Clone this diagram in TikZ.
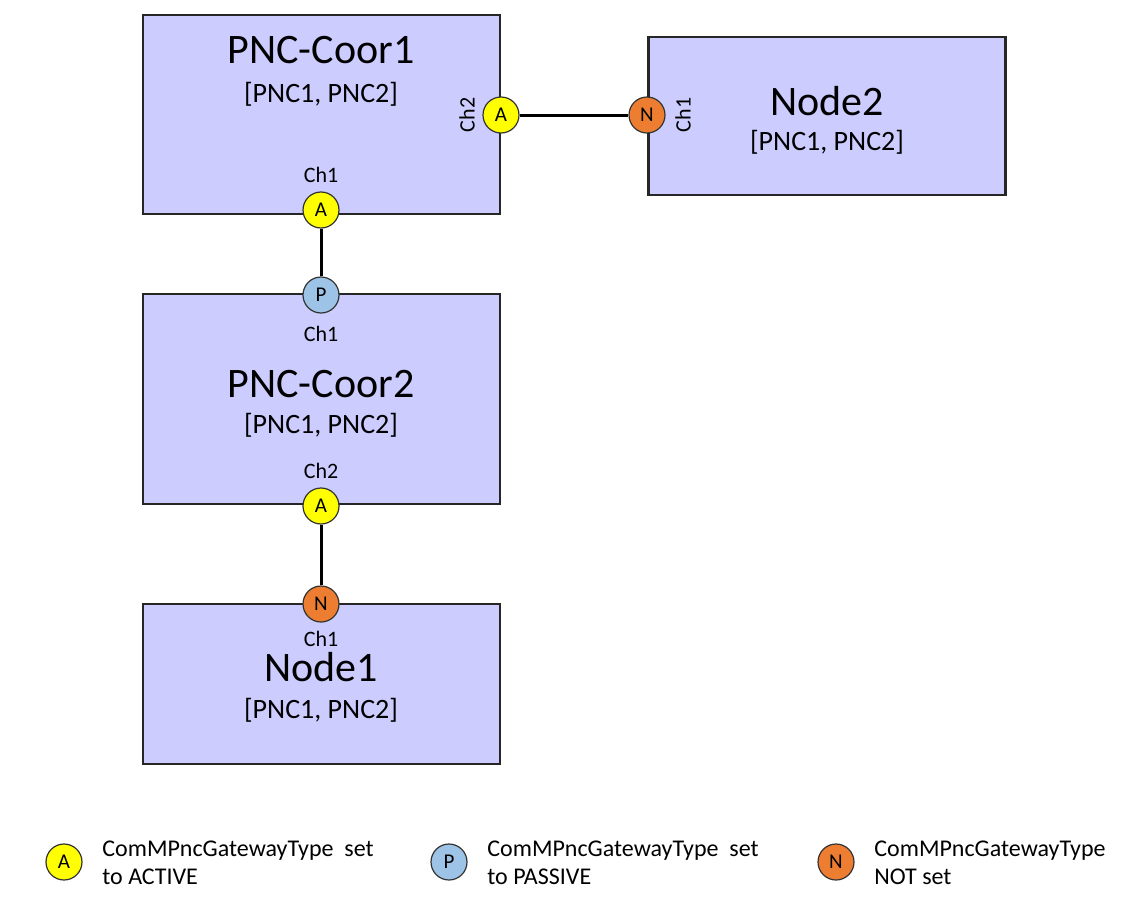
\documentclass[tikz,border=0pt]{standalone}
\usepackage{fontspec}
\setmainfont{Carlito}
\usepackage{tikz}
\usetikzlibrary{positioning}
\definecolor{boxfill}{HTML}{CCCCFF}
\definecolor{actv}{HTML}{FFFF00}
\definecolor{pasv}{HTML}{9DC3E6}
\definecolor{nset}{HTML}{ED7D31}

\begin{document}
\begin{tikzpicture}[x=0.5pt,y=-0.5pt,
  ecu/.style={rectangle,draw=black!85,line width=1.2pt,fill=boxfill,minimum width=178.5pt,inner sep=0pt},
  gw/.style={circle,draw=black!80,line width=0.6pt,minimum size=18pt,inner sep=0pt,font=\fontsize{10.5}{11}\selectfont},
  ttl/.style={font=\fontsize{21}{24}\selectfont},
  sub/.style={font=\fontsize{14}{16}\selectfont},
  ch/.style={font=\fontsize{11}{12}\selectfont,inner sep=1pt},
  lgd/.style={anchor=west,align=left,font=\fontsize{12}{14}\selectfont,inner sep=0pt},
  link/.style={line width=1.5pt}]
\useasboundingbox (0,0) rectangle (1131,910);
% boxes
\node[ecu,minimum height=99.5pt] (C1) at (321.5,114.5) {};
\node[ecu,minimum height=79pt] (N2) at (827,116) {};
\node[ecu,minimum height=105pt] (C2) at (321.5,399) {};
\node[ecu,minimum height=80pt] (N1) at (321.5,684) {};
% box texts
\node[ttl] (C1t) at (321,50) {PNC-Coor1};
\node[sub] (C1s) at (321,94) {[PNC1, PNC2]};
\node[ttl] (N2t) at (827,101) {Node2};
\node[sub] (N2s) at (827,142) {[PNC1, PNC2]};
\node[ttl] (C2t) at (321,384) {PNC-Coor2};
\node[sub] (C2s) at (321,425) {[PNC1, PNC2]};
\node[ttl] (N1t) at (321,667) {Node1};
\node[sub] (N1s) at (321,710) {[PNC1, PNC2]};
% gateway ports
\node[gw,fill=actv] (C1a) at (321,210) {A};
\node[gw,fill=actv] (C1b) at (501,115) {A};
\node[gw,fill=nset] (N2a) at (647,115) {N};
\node[gw,fill=pasv] (C2a) at (321,295) {P};
\node[gw,fill=actv] (C2b) at (321,506) {A};
\node[gw,fill=nset] (N1a) at (321,604) {N};
% channel labels
\node[ch] (C1al) at (321,175) {Ch1};
\node[ch,rotate=90] (C1bl) at (467,115) {Ch2};
\node[ch,rotate=90] (N2al) at (683,115) {Ch1};
\node[ch] (C2al) at (321,334) {Ch1};
\node[ch] (C2bl) at (321,471) {Ch2};
\node[ch] (N1al) at (321,639) {Ch1};
% links
\draw[link] (C1b) -- (N2a);
\draw[link] (C1a) -- (C2a);
\draw[link] (C2b) -- (N1a);
% legend
\foreach \n/\x/\c/\l/\t in {la/64/actv/A/{ComMPncGatewayType\ \ set\\to ACTIVE},
                            lp/449/pasv/P/{ComMPncGatewayType\ \ set\\to PASSIVE},
                            ln/836/nset/N/{ComMPncGatewayType\\NOT set}}{
  \node[gw,fill=\c] (\n) at (\x,862) {\l};
  \node[lgd] (\n t) at (\x+38,863) {\t};
}
\end{tikzpicture}
\end{document}
